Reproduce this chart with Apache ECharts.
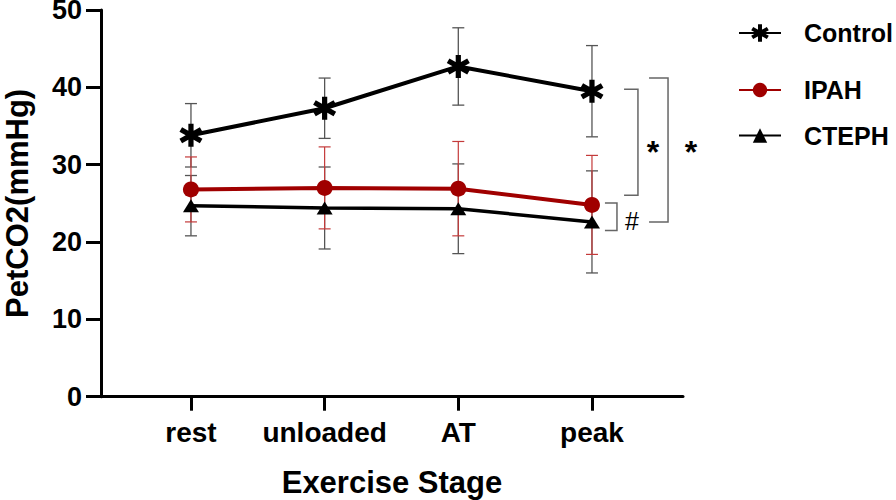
<!DOCTYPE html>
<html>
<head>
<meta charset="utf-8">
<script src="https://cdn.jsdelivr.net/npm/echarts@6/dist/echarts.min.js"></script>
<style>
html,body{margin:0;padding:0;background:#fff;}
#chart{width:896px;height:500px;}
</style>
</head>
<body>
<div id="chart"></div>
<script>
// ---- data ----
const categories = ['rest', 'unloaded', 'AT', 'peak'];
const categoryPos = [1, 2, 3, 4];
const controlMean = [33.8, 37.3, 42.7, 39.5];
const controlSD   = [4.1, 3.9, 5.0, 5.9];
const ipahMean    = [26.8, 27.0, 26.9, 24.8];
const ipahSD      = [4.2, 5.3, 6.1, 6.4];
const ctephMean   = [24.7, 24.4, 24.3, 22.6];
const ctephSD     = [3.9, 5.3, 5.8, 6.6];
const yTicks = [0, 10, 20, 30, 40, 50];
// significance brackets (axis units)
const bracketXLeft  = [4.24, 4.427, 4.097];
const bracketXRight = [4.344, 4.569, 4.187];
const bracketTop    = [39.75, 41.2, 25.05];
const bracketBottom = [26.05, 22.6, 21.5];
const bracketLabel  = ['*', '*', '#'];
const labelX = [4.457, 4.741, 4.299];
const labelY = [31.6, 31.6, 22.7];

const FONT = '"Liberation Sans", Arial, Helvetica, sans-serif';
const RED = '#a00000';

const asterisk = 'path://M-22,-100L22,-100L22,100L-22,100Z' +
  'M75,-69L97,-31L-75,69L-97,31Z' +
  'M-97,-31L-75,-69L97,31L75,69Z';

function pts(mean) { return categoryPos.map((x, i) => [x, mean[i]]); }
function errs(mean, sd) { return categoryPos.map((x, i) => [x, mean[i] - sd[i], mean[i] + sd[i]]); }

function errRender(color, width) {
  return function (params, api) {
    const x = api.value(0), lo = api.value(1), hi = api.value(2);
    const a = api.coord([x, hi]), b = api.coord([x, lo]);
    const h = 6;
    const st = { stroke: color, lineWidth: width };
    return { type: 'group', children: [
      { type: 'line', shape: { x1: a[0], y1: a[1], x2: b[0], y2: b[1] }, style: st },
      { type: 'line', shape: { x1: a[0] - h, y1: a[1], x2: a[0] + h, y2: a[1] }, style: st },
      { type: 'line', shape: { x1: b[0] - h, y1: b[1], x2: b[0] + h, y2: b[1] }, style: st }
    ]};
  };
}

const bracketData = bracketLabel.map((l, i) => [bracketXLeft[i], bracketXRight[i], bracketTop[i], bracketBottom[i], labelX[i], labelY[i], i]);

function bracketRender(params, api) {
  const xl = api.value(0), xr = api.value(1), yt = api.value(2), yb = api.value(3);
  const lx = api.value(4), ly = api.value(5), idx = api.value(6);
  const p1 = api.coord([xl, yt]), p2 = api.coord([xr, yt]), p3 = api.coord([xr, yb]), p4 = api.coord([xl, yb]);
  const lp = api.coord([lx, ly]);
  const lab = bracketLabel[idx];
  return { type: 'group', children: [
    { type: 'polyline', shape: { points: [p1, p2, p3, p4] }, style: { stroke: '#666', lineWidth: 1.5, fill: null } },
    { type: 'text', style: { text: lab, x: lp[0], y: lp[1], align: 'center', verticalAlign: 'middle',
      font: (lab === '#' ? 'normal 25px ' : 'bold 32px ') + FONT, fill: '#000' } }
  ]};
}

const chart = echarts.init(document.getElementById('chart'), null, { renderer: 'svg' });
const legendBase = {
  orient: 'vertical', left: 738, padding: 0, itemWidth: 42,
  textStyle: { fontFamily: FONT, fontWeight: 'bold', fontSize: 25, color: '#000', padding: [0, 0, 0, 18], lineHeight: 26 },
  selectedMode: false
};
chart.setOption({
  animation: false,
  backgroundColor: '#fff',
  textStyle: { fontFamily: FONT },
  grid: { left: 101, top: 10, width: 582, height: 386.7, containLabel: false, outerBoundsMode: 'none' },
  legend: [
    Object.assign({}, legendBase, { top: 20, itemHeight: 22, data: ['Control'] }),
    Object.assign({}, legendBase, { top: 77, itemHeight: 18, data: ['IPAH'] }),
    Object.assign({}, legendBase, { top: 122.5, itemHeight: 18, data: ['CTEPH'] })
  ],
  xAxis: {
    type: 'value', min: 0.327, max: 4.681,
    name: 'Exercise Stage', nameLocation: 'middle', nameGap: 71,
    nameTextStyle: { fontFamily: FONT, fontWeight: 'bold', fontSize: 31, color: '#000', lineHeight: 30 },
    splitLine: { show: false },
    axisLine: { show: true, onZero: false, lineStyle: { color: '#000', width: 3 } },
    axisTick: { show: true, length: 14, lineStyle: { color: '#000', width: 3 }, customValues: categoryPos },
    axisLabel: { show: true, customValues: categoryPos, margin: 22, fontFamily: FONT, fontWeight: 'bold', fontSize: 28, color: '#000',
      formatter: v => categories[categoryPos.indexOf(v)] || '' }
  },
  yAxis: {
    type: 'value', min: yTicks[0], max: yTicks[yTicks.length - 1], interval: 10,
    name: 'PetCO2(mmHg)', nameLocation: 'middle', nameGap: 68,
    nameTextStyle: { fontFamily: FONT, fontWeight: 'bold', fontSize: 31, color: '#000', lineHeight: 31 },
    splitLine: { show: false },
    axisLine: { show: true, lineStyle: { color: '#000', width: 3 } },
    axisTick: { show: true, length: 15, lineStyle: { color: '#000', width: 3 } },
    axisLabel: { margin: 19, fontFamily: FONT, fontWeight: 'bold', fontSize: 27, color: '#000', lineHeight: 20, padding: [4, 0, 0, 0] }
  },
  series: [
    { type: 'custom', name: 'err-control', z: 1, renderItem: errRender('#555', 1.3), data: errs(controlMean, controlSD), encode: { x: 0, y: [1, 2] }, silent: true },
    { type: 'custom', name: 'err-cteph', z: 1, renderItem: errRender('#555', 1.3), data: errs(ctephMean, ctephSD), encode: { x: 0, y: [1, 2] }, silent: true },
    { type: 'custom', name: 'err-ipah', z: 1, renderItem: errRender('#c43a3a', 1.2), data: errs(ipahMean, ipahSD), encode: { x: 0, y: [1, 2] }, silent: true },
    { type: 'line', name: 'Control', z: 3, data: pts(controlMean), symbol: asterisk, symbolSize: 23,
      lineStyle: { color: '#000', width: 4 }, itemStyle: { color: '#000' }, emphasis: { disabled: true } },
    { type: 'line', name: 'IPAH', z: 3, data: pts(ipahMean), symbol: 'circle', symbolSize: 16,
      lineStyle: { color: RED, width: 4 }, itemStyle: { color: RED }, emphasis: { disabled: true } },
    { type: 'line', name: 'CTEPH', z: 3, data: pts(ctephMean), symbol: 'triangle', symbolSize: [16, 13],
      lineStyle: { color: '#000', width: 3.5 }, itemStyle: { color: '#000' }, emphasis: { disabled: true } },
    { type: 'custom', name: 'brackets', z: 2, clip: false, renderItem: bracketRender, data: bracketData,
      encode: { x: 0, y: 2 }, silent: true }
  ]
});
</script>
</body>
</html>
